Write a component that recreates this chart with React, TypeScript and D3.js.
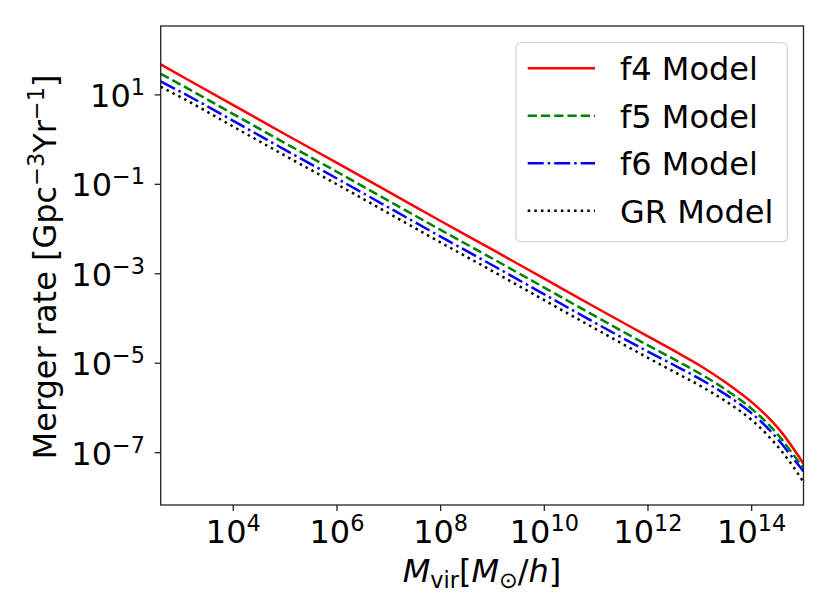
import React from 'react';
import * as d3 from 'd3';

// log10 of halo mass, and log10 of merger rate for each model
const logMass = [2.6, 3, 4, 5, 6, 7, 8, 9, 10, 11, 12, 12.5, 13, 13.5, 14, 14.3, 14.6, 14.8, 14.9, 15];
const f4Log = [1.68, 1.42, 0.77, 0.12, -0.52, -1.17, -1.82, -2.46, -3.11, -3.76, -4.40, -4.72, -5.05, -5.43, -5.87, -6.19, -6.58, -6.90, -7.07, -7.25];
const f5Log = [1.47, 1.22, 0.57, -0.08, -0.72, -1.37, -2.02, -2.66, -3.31, -3.96, -4.60, -4.91, -5.23, -5.59, -6.02, -6.34, -6.73, -7.04, -7.19, -7.33];
const f6Log = [1.30, 1.06, 0.42, -0.23, -0.87, -1.52, -2.17, -2.81, -3.46, -4.11, -4.74, -5.04, -5.35, -5.70, -6.12, -6.44, -6.83, -7.13, -7.27, -7.42];
const grLog = [1.18, 0.94, 0.29, -0.36, -1.00, -1.65, -2.30, -2.94, -3.59, -4.24, -4.88, -5.19, -5.50, -5.85, -6.27, -6.60, -7.00, -7.31, -7.48, -7.66];

const seriesNames = ['f4 Model', 'f5 Model', 'f6 Model', 'GR Model'];
const xTickExps = [4, 6, 8, 10, 12, 14];
const yTickExps = [1, -1, -3, -5, -7];

const W = 830;
const H = 616;
const margin = { left: 160.7, right: 803.5, top: 26, bottom: 505 };
const FONT = 'DejaVu Sans, Liberation Sans, sans-serif';
const FS = 32;
const LW = 2.5;

const styles = [
  { color: 'red', dash: undefined },
  { color: 'green', dash: `${3.7 * LW},${1.6 * LW}` },
  { color: 'blue', dash: `${6.4 * LW},${1.6 * LW},${1 * LW},${1.6 * LW}` },
  { color: 'black', dash: `${1 * LW},${1.65 * LW}` },
];

const App: React.FC = () => {
  const x = d3.scaleLog().domain([10 ** 2.6, 1e15]).range([margin.left, margin.right]);
  const y = d3.scaleLog().domain([10 ** -8.17, 10 ** 2.54]).range([margin.bottom, margin.top]);

  const line = d3
    .line<[number, number]>()
    .x((d) => x(d[0]))
    .y((d) => y(d[1]))
    .curve(d3.curveMonotoneX);

  const allSeries = [f4Log, f5Log, f6Log, grLog].map((vals) =>
    logMass.map((m, i) => [10 ** m, 10 ** vals[i]] as [number, number])
  );

  const sup = (exp: number) => (exp < 0 ? `\u2212${-exp}` : `${exp}`);

  const legX = 516;
  const legY = 42.7;
  const rowGap = 47.5;

  return (
    <svg
      width={W}
      height={H}
      viewBox={`0 0 ${W} ${H}`}
      style={{ position: 'absolute', left: 0, top: 0, background: 'white' }}
      fontFamily={FONT}
    >
      <defs>
        <clipPath id="plot-clip">
          <rect
            x={margin.left}
            y={margin.top}
            width={margin.right - margin.left}
            height={margin.bottom - margin.top}
          />
        </clipPath>
      </defs>

      <g clipPath="url(#plot-clip)">
        {allSeries.map((pts, i) => (
          <path
            key={seriesNames[i]}
            d={line(pts) || ''}
            fill="none"
            stroke={styles[i].color}
            strokeWidth={LW}
            strokeDasharray={styles[i].dash}
          />
        ))}
      </g>

      {/* frame */}
      <rect
        x={margin.left}
        y={margin.top}
        width={margin.right - margin.left}
        height={margin.bottom - margin.top}
        fill="none"
        stroke="#222"
        strokeWidth={1.3}
      />

      {/* x ticks */}
      {xTickExps.map((e) => {
        const px = x(10 ** e);
        return (
          <g key={`x${e}`}>
            <line x1={px} x2={px} y1={margin.bottom} y2={margin.bottom + 6} stroke="#222" strokeWidth={1.3} />
            <text x={px} y={543} textAnchor="middle" fontSize={FS}>
              10<tspan dy={-12} fontSize={FS * 0.7}>{sup(e)}</tspan>
            </text>
          </g>
        );
      })}

      {/* y ticks */}
      {yTickExps.map((e) => {
        const py = y(10 ** e);
        return (
          <g key={`y${e}`}>
            <line x1={margin.left - 6} x2={margin.left} y1={py} y2={py} stroke="#222" strokeWidth={1.3} />
            <text x={145} y={py + 12} textAnchor="end" fontSize={FS}>
              10<tspan dy={-12} fontSize={FS * 0.7}>{sup(e)}</tspan>
            </text>
          </g>
        );
      })}

      {/* axis labels */}
      <text x={482} y={582} textAnchor="middle" fontSize={FS}>
        <tspan fontStyle="italic">M</tspan>
        <tspan dy={6} fontSize={FS * 0.7}>vir</tspan>
        <tspan dy={-6}>[</tspan>
        <tspan fontStyle="italic">M</tspan>
        <tspan dy={6} fontSize={FS * 0.7}>{'\u2299'}</tspan>
        <tspan dy={-6}>/</tspan>
        <tspan fontStyle="italic">h</tspan>
        <tspan>]</tspan>
      </text>
      <text transform="translate(56,267) rotate(-90)" textAnchor="middle" fontSize={FS}>
        Merger rate [Gpc
        <tspan dy={-12} fontSize={FS * 0.7}>{'\u22123'}</tspan>
        <tspan dy={12}>Yr</tspan>
        <tspan dy={-12} fontSize={FS * 0.7}>{'\u22121'}</tspan>
        <tspan dy={12}>]</tspan>
      </text>

      {/* legend */}
      <rect
        x={legX}
        y={legY}
        width={271.3}
        height={199}
        rx={5}
        fill="white"
        fillOpacity={0.8}
        stroke="#d6d6d6"
        strokeWidth={1.3}
      />
      {seriesNames.map((name, i) => {
        const ry = 68.3 + i * rowGap;
        return (
          <g key={name}>
            <line
              x1={527.7}
              x2={595}
              y1={ry}
              y2={ry}
              stroke={styles[i].color}
              strokeWidth={LW}
              strokeDasharray={styles[i].dash}
            />
            <text x={620} y={ry + 12} fontSize={FS}>
              {name}
            </text>
          </g>
        );
      })}
    </svg>
  );
};

export default App;
